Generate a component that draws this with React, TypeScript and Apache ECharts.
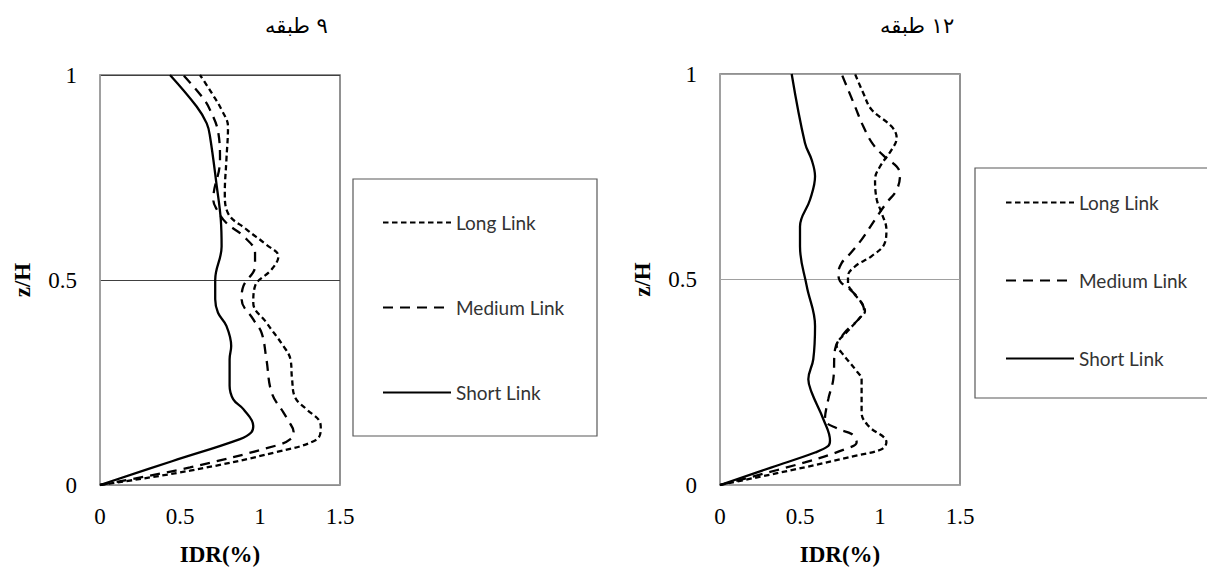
import React, { useEffect, useRef } from "react";
import * as echarts from "echarts";

// ---- data: [IDR(%), z/H] ----
const titles = ["٩ طبقه", "١٢ طبقه"];
const seriesNames = ["Long Link", "Medium Link", "Short Link"];
const xTicks = { min: 0, max: 1.5, interval: 0.5 };
const yTicks = { min: 0, max: 1, interval: 0.5 };

const long9: number[][] = [
  [0, 0], [0.5625, 0.035], [1.1, 0.08], [1.35, 0.11], [1.38, 0.137], [1.375, 0.153],
  [1.29, 0.185], [1.22, 0.213], [1.2, 0.26], [1.19, 0.307], [1.146, 0.339], [1.04, 0.396],
  [0.958, 0.444], [0.969, 0.485], [1.073, 0.526], [1.115, 0.558], [1.04, 0.586],
  [0.917, 0.623], [0.8, 0.663], [0.78, 0.712], [0.79, 0.793], [0.8, 0.874],
  [0.76, 0.915], [0.7, 0.955], [0.625, 1.0],
];
const medium9: number[][] = [
  [0, 0], [0.5625, 0.043], [1.1, 0.096], [1.19, 0.112], [1.21, 0.13], [1.18, 0.155],
  [1.146, 0.177], [1.073, 0.225], [1.04, 0.307], [1.01, 0.371], [0.958, 0.404],
  [0.885, 0.453], [0.896, 0.485], [0.969, 0.534], [0.969, 0.566], [0.896, 0.607],
  [0.79, 0.639], [0.73, 0.672], [0.708, 0.696], [0.75, 0.793], [0.74, 0.858],
  [0.6875, 0.915], [0.6375, 0.947], [0.52, 1.0],
];
const short9: number[][] = [
  [0, 0], [0.45, 0.058], [0.875, 0.112], [0.945, 0.128], [0.958, 0.144], [0.896, 0.185],
  [0.833, 0.209], [0.81, 0.242], [0.81, 0.307], [0.82, 0.339], [0.79, 0.388],
  [0.7375, 0.42], [0.72, 0.453], [0.72, 0.5], [0.76, 0.582], [0.755, 0.647],
  [0.73, 0.728], [0.6875, 0.85], [0.667, 0.882], [0.604, 0.923], [0.4375, 1.0],
];

const long12: number[][] = [
  [0, 0], [0.53, 0.043], [0.844, 0.071], [1.01, 0.087], [1.04, 0.104], [0.927, 0.144],
  [0.885, 0.176], [0.885, 0.257], [0.854, 0.277], [0.76, 0.322], [0.729, 0.339],
  [0.8, 0.375], [0.875, 0.407], [0.906, 0.423], [0.885, 0.443], [0.833, 0.468],
  [0.8, 0.492], [0.8, 0.508], [0.844, 0.532], [0.948, 0.557], [1.03, 0.589],
  [1.04, 0.621], [1.01, 0.662], [0.98, 0.694], [0.969, 0.743], [1.0, 0.775],
  [1.073, 0.816], [1.104, 0.844], [1.073, 0.872], [0.948, 0.913], [0.896, 0.953],
  [0.844, 1.0],
];
const medium12: number[][] = [
  [0, 0], [0.53, 0.055], [0.78, 0.087], [0.854, 0.104], [0.823, 0.124], [0.74, 0.136],
  [0.656, 0.16], [0.677, 0.209], [0.708, 0.257], [0.719, 0.33], [0.78, 0.371],
  [0.865, 0.403], [0.9, 0.427], [0.875, 0.449], [0.8125, 0.476], [0.75, 0.496],
  [0.74, 0.516], [0.76, 0.54], [0.8, 0.557], [0.885, 0.597], [0.969, 0.646],
  [1.04, 0.686], [1.104, 0.718], [1.125, 0.755], [1.104, 0.775], [1.04, 0.795],
  [0.958, 0.828], [0.896, 0.872], [0.844, 0.921], [0.76, 1.0],
];
const short12: number[][] = [
  [0, 0], [0.323, 0.043], [0.594, 0.079], [0.677, 0.095], [0.6875, 0.108], [0.646, 0.16],
  [0.573, 0.225], [0.552, 0.257], [0.583, 0.306], [0.594, 0.387], [0.542, 0.484],
  [0.5, 0.581], [0.5, 0.629], [0.5625, 0.694], [0.594, 0.751], [0.573, 0.791],
  [0.531, 0.832], [0.448, 1.0],
];

const panels = [
  { data: [long9, medium9, short9] },
  { data: [long12, medium12, short12] },
];

const serif = "'Liberation Serif', 'Times New Roman', serif";
const sans = "Lato, 'Open Sans', sans-serif";

export default function App() {
  const ref = useRef<HTMLDivElement>(null);

  useEffect(() => {
    document.body.style.margin = "0";
    if (!ref.current) return;
    const chart = echarts.init(ref.current, undefined, { renderer: "svg" });

    const grids = [
      { left: 100, top: 75, width: 240, height: 411 },
      { left: 720, top: 74, width: 240, height: 412 },
    ];
    const splitColors = ["#404040", "#a0a0a0"];
    const dashes: any[] = [[5.5, 3.5], [10, 7], "solid"];
    const widths = [2.3, 2.3, 2.3];

    const xAxis = grids.map((_, i) => ({
      type: "value",
      gridIndex: i,
      ...xTicks,
      name: "IDR(%)",
      nameLocation: "middle",
      nameGap: 58,
      nameTextStyle: { fontFamily: serif, fontWeight: "bold", fontSize: 23, color: "#000" },
      axisLine: { show: true, lineStyle: { color: "#a6a6a6", width: 1.5 } },
      axisTick: { show: false },
      axisLabel: { fontFamily: serif, fontSize: 23, color: "#000", margin: 20 },
      splitLine: { show: false },
    }));
    const yAxis = grids.map((_, i) => ({
      type: "value",
      gridIndex: i,
      ...yTicks,
      name: "z/H",
      nameLocation: "middle",
      nameGap: 66,
      nameTextStyle: { fontFamily: serif, fontWeight: "bold", fontSize: 23, color: "#000" },
      axisLine: { show: true, lineStyle: { color: "#a6a6a6", width: 1.5 } },
      axisTick: { show: false },
      axisLabel: { fontFamily: serif, fontSize: 23, color: "#000", margin: 23 },
      splitLine: { show: true, lineStyle: { color: splitColors[i], width: 1.2 } },
    }));

    const series: any[] = [];
    panels.forEach((p, gi) => {
      p.data.forEach((d, si) => {
        series.push({
          type: "line",
          name: seriesNames[si],
          xAxisIndex: gi,
          yAxisIndex: gi,
          data: d,
          smooth: 0.4,
          symbol: "none",
          lineStyle: { color: "#000", width: widths[si], type: dashes[si] },
          itemStyle: { color: "#000" },
          z: 3,
        });
      });
    });

    const legendBase = {
      orient: "vertical",
      padding: 0,
      itemWidth: 68,
      itemHeight: 14,
      selectedMode: false,
      data: seriesNames,
      itemStyle: { opacity: 0 },
      textStyle: { fontFamily: sans, fontSize: 19, color: "#333", lineHeight: 14 },
    };

    const titleStyle = { fontFamily: "'DejaVu Sans', serif", fontSize: 21, fontWeight: "normal", color: "#000" };

    chart.setOption({
      animation: false,
      backgroundColor: "#fff",
      title: [
        { text: titles[0], left: 260, top: 10, textStyle: titleStyle },
        { text: titles[1], left: 875, top: 10, textStyle: titleStyle },
      ],
      grid: grids.map((g) => ({ ...g, show: true, borderColor: "#6e6e6e", borderWidth: 1.5, backgroundColor: "transparent" })),
      xAxis,
      yAxis,
      legend: [
        { ...legendBase, left: 382, top: 213, itemGap: 66 },
        { ...legendBase, left: 1005, top: 193, itemGap: 59 },
      ],
      graphic: [
        { type: "rect", shape: { x: 353, y: 179, width: 244, height: 257 }, style: { fill: "none", stroke: "#595959", lineWidth: 1.2 } },
        { type: "rect", shape: { x: 975, y: 168, width: 240, height: 230 }, style: { fill: "none", stroke: "#595959", lineWidth: 1.2 } },
      ],
      series,
    });

    return () => chart.dispose();
  }, []);

  return <div ref={ref} style={{ width: 1207, height: 571 }} />;
}
